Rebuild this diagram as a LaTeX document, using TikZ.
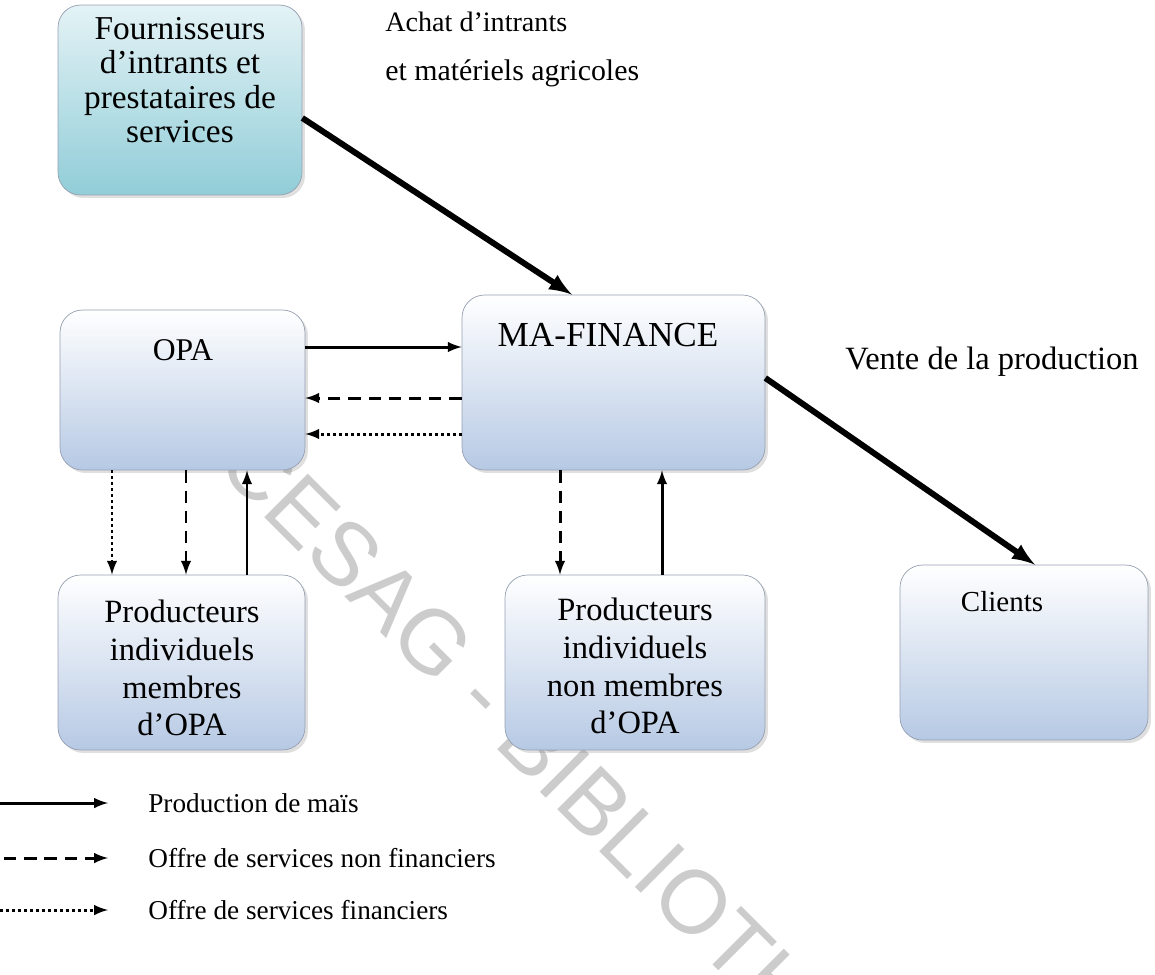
\documentclass[tikz,border=0pt]{standalone}
\usepackage{fontspec}
\setmainfont{Liberation Serif}
\newfontfamily\wmfont{Liberation Sans}
\usetikzlibrary{shadows}
\definecolor{boxblue}{RGB}{182,201,228}
\definecolor{boxcyan}{RGB}{145,205,216}
\definecolor{boxline}{RGB}{150,160,178}
\tikzset{
  box/.style={draw=boxline, rounded corners=0.45cm, top color=white,
    bottom color=boxblue, inner sep=0pt,
    drop shadow={opacity=0.25, shadow xshift=0.6mm, shadow yshift=-0.6mm}},
  boxtext/.style={align=center, font=\fontsize{18.5}{21.5}\selectfont},
  lbl/.style={anchor=west, inner sep=0pt, font=\fontsize{17}{20}\selectfont},
  legtext/.style={anchor=west, inner sep=0pt, font=\fontsize{15.5}{19}\selectfont},
  prodflow/.style={->, line width=1.7pt},
  nonfin/.style={->, line width=1.7pt, dash pattern=on 7pt off 4.5pt},
  fin/.style={->, line width=1.7pt, dash pattern=on 1.7pt off 1.7pt},
  bigflow/.style={->, line width=3.4pt}
}

\begin{document}
\begin{tikzpicture}[x=0.02cm, y=-0.02cm, >=latex]
\useasboundingbox (0,0) rectangle (1155,974);

%%%%%%%%%%%%%%%%%%Watermark%%%%%%%%%%%%%%%
\node[rotate=-45, anchor=west, inner sep=0pt, text=gray!40, font=\wmfont\fontsize{51}{51}\selectfont] (wm) at (230,450) {CESAG - BIBLIOTHEQUE};

%%%%%%%%%%%%%%%%%%Draw The Boxes%%%%%%%%%%%%%%%
\node[box, top color=boxcyan!25, bottom color=boxcyan, minimum width=4.88cm, minimum height=3.8cm] (fourn) at (180,100) {};
\node[box, minimum width=4.9cm, minimum height=3.2cm] (opa) at (182.5,390) {};
\node[box, minimum width=6.06cm, minimum height=3.5cm] (mafin) at (613.5,382.5) {};
\node[box, minimum width=4.94cm, minimum height=3.5cm] (prodmem) at (181.5,662.5) {};
\node[box, minimum width=5.2cm, minimum height=3.5cm] (prodnon) at (635,662.5) {};
\node[box, minimum width=4.96cm, minimum height=3.5cm] (clients) at (1024,652.5) {};

%%%%%%%%%%%%%%Texts In The Boxes%%%%%%%%%%%%%%
\node[boxtext, font=\fontsize{19}{19.5}\selectfont] (fourntxt) at (180,80) {Fournisseurs\\d’intrants et\\prestataires de\\services};
\node[boxtext, font=\fontsize{18}{20}\selectfont] (opatxt) at (183,350) {OPA};
\node[boxtext, font=\fontsize{20}{22}\selectfont] (mafintxt) at (608,335) {MA-FINANCE};
\node[boxtext] (prodmemtxt) at (182,668) {Producteurs\\individuels\\membres\\d’OPA};
\node[boxtext] (prodnontxt) at (635,666) {Producteurs\\individuels\\non membres\\d’OPA};
\node[boxtext, font=\fontsize{16.5}{20}\selectfont] (clientstxt) at (1002,602) {Clients};

%%%%%%%%%%%%%%Labels Of The Big Arrows%%%%%%%%%%%%%%
\node[lbl, font=\fontsize{16}{20}\selectfont] (achat) at (385,22) {Achat d’intrants};
\node[lbl] (materiel) at (385,73) {et matériels agricoles};
\node[lbl, font=\fontsize{18.5}{20}\selectfont] (vente) at (845,362) {Vente de la production};

%%%%%%%%%%%%%%Big Arrows%%%%%%%%%%%%%%
\draw[bigflow] (fourn.east |- 0,118) -- (mafin.north -| 572,0);
\draw[bigflow] (mafin.east |- 0,378) -- (clients.north -| 1035,0);

%%%%%%%%%%%%%%OPA <-> MA-FINANCE%%%%%%%%%%%%%%
\draw[prodflow] (opa.east |- 0,347) -- (mafin.west |- 0,347);
\draw[nonfin] (mafin.west |- 0,398) -- (opa.east |- 0,398);
\draw[fin] (mafin.west |- 0,434) -- (opa.east |- 0,434);

%%%%%%%%%%%%%%OPA <-> Producteurs membres%%%%%%%%%%%%%%
\draw[fin] (opa.south -| 112,0) -- (prodmem.north -| 112,0);
\draw[nonfin] (opa.south -| 186,0) -- (prodmem.north -| 186,0);
\draw[prodflow] (prodmem.north -| 247,0) -- (opa.south -| 247,0);

%%%%%%%%%%%%%%MA-FINANCE <-> Producteurs non membres%%%%%%%%%%%%%%
\draw[nonfin] (mafin.south -| 560,0) -- (prodnon.north -| 560,0);
\draw[prodflow] (prodnon.north -| 662,0) -- (mafin.south -| 662,0);

%%%%%%%%%%%%%%Legend%%%%%%%%%%%%%%
\coordinate (leg1) at (0,803);
\coordinate (leg2) at (4,858);
\coordinate (leg3) at (0,910);
\node[legtext] (legprod) at (148,803) {Production de maïs};
\node[legtext] (legnonfin) at (148,858) {Offre de services non financiers};
\node[legtext] (legfin) at (148,910) {Offre de services financiers};
\draw[prodflow] (leg1) -- ([xshift=-0.8cm]legprod.west);
\draw[nonfin] (leg2) -- ([xshift=-0.8cm]legnonfin.west);
\draw[fin] (leg3) -- ([xshift=-0.8cm]legfin.west);

\end{tikzpicture}
\end{document}
